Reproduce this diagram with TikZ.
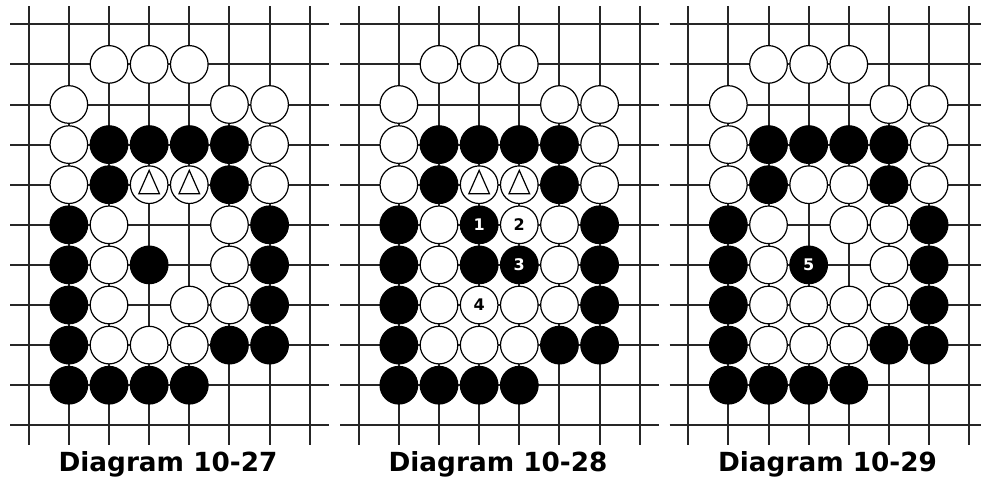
\documentclass[tikz,border=0pt]{standalone}
\usepackage{fontspec}
\setmainfont{DejaVu Sans}
\newcommand\numfnt{\bfseries\fontsize{16}{16}\selectfont}
\newcommand\capfnt{\bfseries\fontsize{26.3}{26.3}\selectfont}
\tikzset{
  gridln/.style={line width=2pt, draw=black!85},
  wst/.style={circle, draw=black, fill=white, line width=1.2pt, minimum size=37.6pt, inner sep=0pt, font=\numfnt, text=black},
  bst/.style={wst, fill=black, text=white},
  tri/.style={line width=1.2pt, draw=black},
  capt/.style={font=\capfnt, anchor=base, inner sep=0pt}
}
\newcommand\drawgrid[2]{%
  \foreach \c in {0,...,7} \draw[gridln] ({#1+28.7+40.15*\c},6) -- ({#1+28.7+40.15*\c},444.5);
  \foreach \r in {0,...,10} \draw[gridln] ({#1+10},{24.3+40.1*\r}) -- (#2,{24.3+40.1*\r});
}
\newcommand\stones[4]{% style, prefix, offset, list
  \foreach \c/\r in {#4} \node[#1] (#2-\c-\r) at ({#3+28.7+40.15*\c},{24.3+40.1*\r}) {};
}
\newcommand\numstone[6]{% style, prefix, offset, c, r, text
  \node[#1] (#2-#4-#5) at ({#3+28.7+40.15*#4},{24.3+40.1*#5}) {#6};
}
\newcommand\trimark[1]{%
  \draw[tri] ([shift={(0,-14.3)}]#1.center) -- ([shift={(-10.3,9)}]#1.center) -- ([shift={(10.3,9)}]#1.center) -- cycle;
}
\begin{document}
\begin{tikzpicture}[x=1pt,y=-1pt]
\useasboundingbox[fill=white] (0,0) rectangle (981,480);
% ---------- Diagram 10-27 ----------
\drawgrid{0}{329}
\stones{wst}{a}{0}{2/1,3/1,4/1,1/2,5/2,6/2,1/3,6/3,1/4,6/4,2/5,5/5,2/6,5/6,2/7,4/7,5/7,2/8,3/8,4/8,3/4,4/4}
\stones{bst}{a}{0}{2/3,3/3,4/3,5/3,2/4,5/4,1/5,6/5,1/6,3/6,6/6,1/7,6/7,1/8,5/8,6/8,1/9,2/9,3/9,4/9}
\trimark{a-3-4}
\trimark{a-4-4}
\node[capt] (capa) at (168,471) {Diagram 10-27};
% ---------- Diagram 10-28 ----------
\drawgrid{330}{659}
\stones{wst}{b}{330}{2/1,3/1,4/1,1/2,5/2,6/2,1/3,6/3,1/4,6/4,2/5,5/5,2/6,5/6,2/7,4/7,5/7,2/8,3/8,4/8,3/4,4/4}
\stones{bst}{b}{330}{2/3,3/3,4/3,5/3,2/4,5/4,1/5,6/5,1/6,3/6,6/6,1/7,6/7,1/8,5/8,6/8,1/9,2/9,3/9,4/9}
\numstone{bst}{b}{330}{3}{5}{1}
\numstone{wst}{b}{330}{4}{5}{2}
\numstone{bst}{b}{330}{4}{6}{3}
\numstone{wst}{b}{330}{3}{7}{4}
\trimark{b-3-4}
\trimark{b-4-4}
\node[capt] (capb) at (498,471) {Diagram 10-28};
% ---------- Diagram 10-29 ----------
\drawgrid{659.5}{981}
\stones{wst}{c}{659.5}{2/1,3/1,4/1,1/2,5/2,6/2,1/3,6/3,1/4,3/4,4/4,6/4,2/5,4/5,5/5,2/6,5/6,2/7,3/7,4/7,5/7,2/8,3/8,4/8}
\stones{bst}{c}{659.5}{2/3,3/3,4/3,5/3,2/4,5/4,1/5,6/5,1/6,6/6,1/7,6/7,1/8,5/8,6/8,1/9,2/9,3/9,4/9}
\numstone{bst}{c}{659.5}{3}{6}{5}
\node[capt] (capc) at (827.5,471) {Diagram 10-29};
\end{tikzpicture}
\end{document}
